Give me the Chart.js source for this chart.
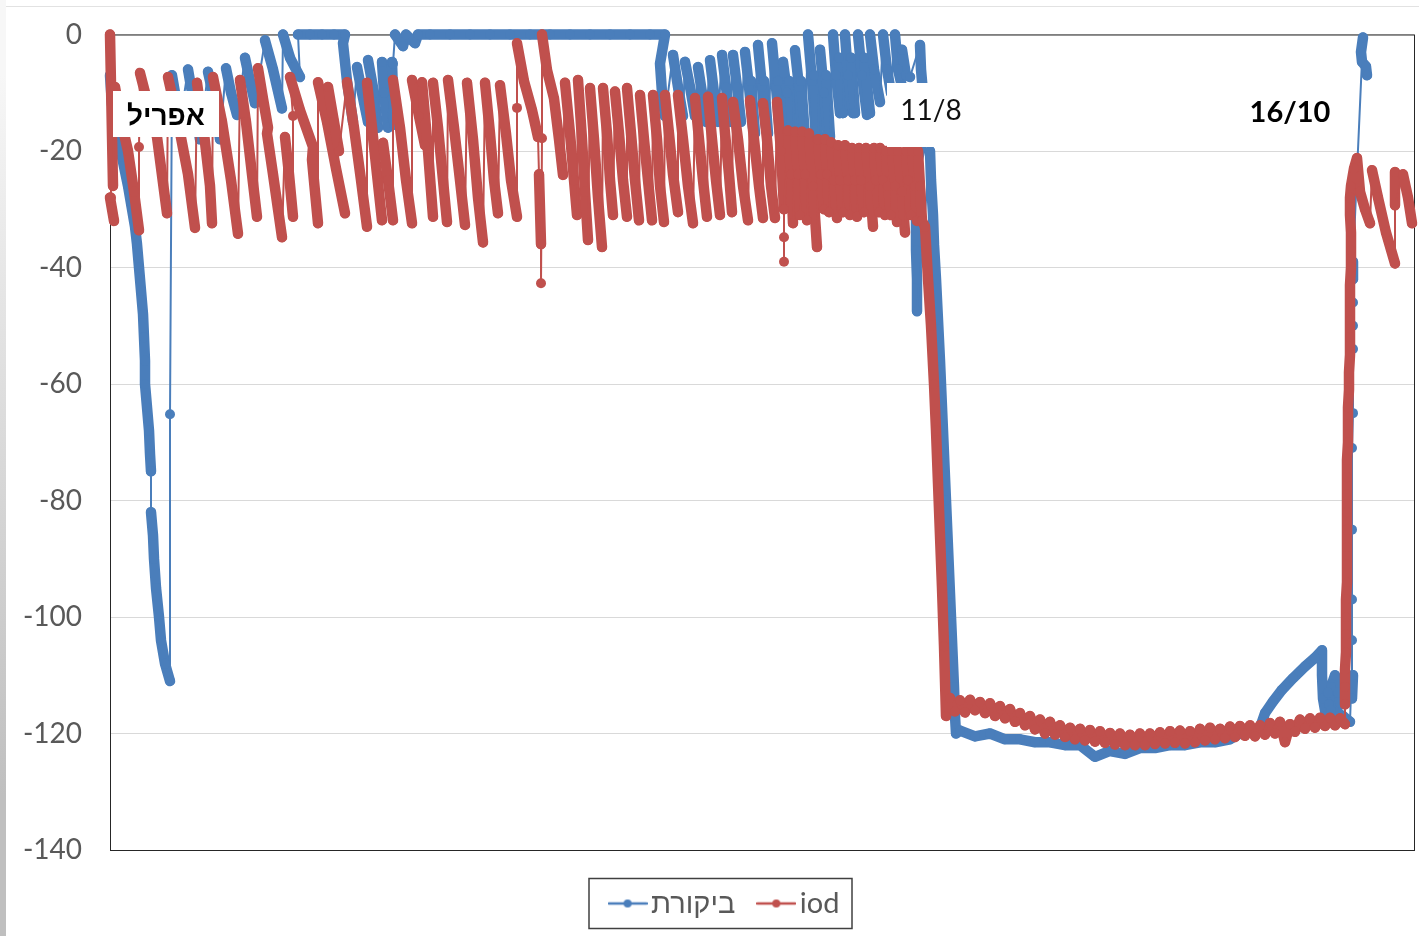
<!DOCTYPE html>
<html><head><meta charset="utf-8">
<style>html,body{margin:0;padding:0;background:#fff;overflow:hidden}
#wrap{position:relative;width:1419px;height:936px}
canvas{position:absolute;left:0;top:0}
#edge{position:absolute;left:0;top:0;width:6px;height:936px;background:linear-gradient(#f7f7f7 8%,#e6e6e6 30%,#bfbfbf 85%)}
#rule{position:absolute;left:6px;top:6px;right:0;height:1px;background:#e2e2e2}
</style>
<script src="https://cdn.jsdelivr.net/npm/chart.js@4"></script></head>
<body><div id="wrap"><div id="edge"></div><div id="rule"></div><canvas id="c" width="1419" height="936"></canvas></div>
<script>
const yTicks=[0,-20,-40,-60,-80,-100,-120,-140];
const seriesNames=['ביקורת','iod'];
const notes=['אפריל','11/8','16/10'];
const controlFall=[[0,-7],[2,-12],[8,-17],[12,-21],[18,-26],[21,-29],[25,-33],[27,-36],[29,-40],[31,-44],[33,-48],[34,-52],[35,-56],[35,-60],[37,-64],[39,-68],[40,-72],[41,-75],[41,-82],[43,-86],[44,-90],[46,-95],[49,-100],[51,-104],[55,-108],[60,-111],[60,-65.2]];
const controlSpring=[[62,-7],[66,-11],[70,-15],[78,-6],[84,-12],[90,-18],[98,-6.4],[104,-11],[110,-18],[116,-5.8],[121,-10],[127,-13.8],[135,-4],[140,-8],[145,-11.8],[155,-1],[163,-6],[172,-12.7],[173,0],[180,-4],[190,-7.3],[188,0],[200,0],[212,0],[224,0],[235,0],[233,-1.5],[237,-8],[243,-15],[247,-5.6],[252,-10],[258,-15],[258,-4.4],[264,-10],[268,-16],[272,-4.7],[274,-10],[278,-16],[282,-4.7],[283,-10],[284,-15.5],[283,-5],[285,0],[293,-2],[296,0],[305,-1.5],[308,0],[320,0],[340,0],[360,0],[380,0],[400,0],[420,0],[440,0],[460,0],[480,0],[500,0],[520,0],[540,0],[555,0]];
const controlSummer=[[550,-5],[552,-10],[555,-14],[563,-3.5],[568,-9],[573,-14],[575,-4.7],[580,-9],[585,-14],[588,-5.6],[592,-10],[596,-15],[600,-4.4],[604,-10],[608,-15],[612,-3.5],[616,-9],[620,-15],[623,-3.5],[627,-9],[631,-15],[635,-3],[639,-9],[643,-16],[641,-8],[645,-17],[648,-1.8],[652,-9],[656,-16],[654,-8],[658,-17],[662,-1.5],[666,-9],[670,-17],[668,-8],[672,-17],[673,-4.7],[677,-10],[681,-17],[679,-8],[683,-17],[685,-2.7],[689,-9],[693,-17.6],[691,-8],[695,-17.6],[698,0],[702,-8],[706,-17.6],[704,-7],[708,-17.6],[710,-2.6],[714,-10],[718,-17.6],[716,-7],[720,-17.6],[723,0],[726,-7],[730,-13.5],[729,-4],[733,-13.5],[735,0],[738,-7],[743,-13.5],[741,-4],[745,-13.5],[748,0],[752,-7],[757,-13.8],[754,-4],[760,-13.5],[760,0],[764,-6],[770,-11.6],[773,0],[777,-6],[781,-10],[785,0],[788,-6],[792,-9],[792,-2.6],[796,-7],[800,-7.3]];
const controlEdge=[[810,-1.8],[811,-6],[813,-10],[813,-18],[807,-22],[807,-27],[806,-32],[806,-37],[807,-42],[807,-47.5]];
const controlDrop=[[820,-20],[821,-25],[823,-31],[824,-36],[826,-42],[828,-49],[830,-56],[832,-64],[834,-72],[836,-80],[838,-88],[840,-96],[842,-104],[844,-112],[845,-117],[846,-120]];
const controlTrough=[[850,-119.5],[865,-120.5],[880,-120],[895,-121],[910,-121],[925,-121.5],[940,-121.5],[955,-122],[970,-122],[985,-124],[1000,-123],[1015,-123.5],[1030,-122.5],[1045,-122.5],[1060,-122],[1075,-122],[1090,-121.5],[1105,-121.5],[1120,-121],[1130,-120],[1150,-119],[1155,-116.5],[1163,-114.5],[1172,-112.5],[1183,-110.5],[1195,-108.5],[1205,-107],[1212,-105.7]];
const controlReturn=[[1212,-110],[1213,-114],[1216,-117],[1219,-115],[1221,-112],[1225,-110],[1228,-113],[1227,-117],[1223,-118],[1218,-113],[1221,-116],[1233,-117],[1240,-118],[1241,-113],[1243,-110],[1242,-114],[1242,-110],[1242,-104],[1242,-97],[1242,-85],[1242,-71],[1243,-65],[1243,-54],[1243,-50],[1243,-46],[1243,-42],[1243,-39],[1253,-0.5],[1251,-3],[1252,-4.7],[1256,-5.5],[1257,-7]];
const iodSpring=[[0,-28],[2,-30],[4,-32],[1,-28],[0,0],[3,-26],[5,-9],[10,-14],[18,-20],[24,-27],[29,-33.6],[29,-19.3],[30,-6.6],[38,-12],[47,-17.6],[57,-30.7],[58,-7.3],[68,-15],[78,-24],[85,-33.2],[87,-8.3],[94,-17],[100,-26],[102,-32.4],[103,-7.3],[112,-15],[121,-25],[128,-34.2],[130,-7.8],[136,-15],[142,-24],[147,-31.3],[148,-5.8],[153,-11],[158,-16],[157,-17],[163,-24],[168,-30],[172,-34.8],[175,-17.6],[179,-24],[183,-31.3],[183,-14],[180,-7.3],[190,-13],[203,-19.3],[202,-21.5],[205,-27],[208,-32.4],[208,-8.2],[217,-15],[226,-23],[235,-30.7],[218,-9],[224,-15],[229,-20],[237,-8.2],[244,-16],[251,-25],[257,-33],[257,-8.3],[262,-16],[267,-24],[272,-31.9],[273,-18.6],[278,-25],[283,-31.9],[283,-7.8],[290,-16],[296,-25],[302,-32.4],[302,-7.8],[309,-14],[315,-19],[312,-8.2],[318,-20],[323,-31.3],[323,-8.3],[328,-16],[333,-25],[337,-32.2],[338,-7.8],[344,-16],[350,-25],[355,-32.7],[357,-8.3],[363,-18],[368,-28],[373,-35.7],[375,-8.3],[380,-17],[384,-25],[388,-30.7],[390,-8.7],[396,-17],[401,-25],[407,-31.3],[407,-12.6],[407,-1.5],[414,-8],[422,-13],[428,-17.6],[429,-24],[430,-30],[431,-36],[431,-42.7],[432,-17.8],[432,0]];
const iodSummer=[[437,-6.1],[444,-11],[449,-18],[453,-24.1],[455,-8.3],[460,-17],[464,-25],[467,-31],[468,-7.8],[472,-18],[475,-27],[478,-35.3],[480,-9.2],[484,-18],[488,-28],[492,-36.5],[493,-9.2],[497,-17],[500,-25],[503,-31],[505,-9.8],[509,-17],[513,-25],[517,-31.3],[517,-9.2],[521,-17],[525,-25],[529,-31.9],[530,-10.4],[534,-18],[538,-25],[542,-31.9],[543,-10.4],[547,-18],[550,-26],[554,-32.2],[555,-10.4],[559,-17],[563,-24],[568,-30.5],[568,-10.4],[573,-18],[578,-26],[583,-32.4],[585,-10.9],[589,-18],[593,-25],[597,-31.3],[598,-10.7],[602,-18],[606,-25],[610,-31],[612,-10.9],[615,-17],[619,-24],[622,-30.5],[623,-11.6],[628,-18],[633,-26],[638,-31.9],[640,-11.3],[644,-18],[649,-26],[653,-31.5],[653,-11.8],[657,-18],[661,-26],[665,-31.5],[667,-11.6],[671,-20],[674,-30],[674,-39],[674,-34.8],[674,-30]];
const iodAugust=[[678,-16.5],[681,-24],[683,-32.4],[685,-16.7],[688,-24],[690,-31],[692,-16.7],[695,-24],[697,-31.9],[699,-17],[703,-26],[707,-36.5],[708,-18],[711,-24],[714,-30],[715,-18],[717,-24],[719,-30.5],[721,-18.5],[724,-25],[727,-31.5],[728,-19],[730,-25],[733,-30.5],[735,-19],[738,-25],[740,-31],[742,-19.5],[745,-25],[747,-31.3],[749,-19.5],[751,-25],[754,-30.5],[756,-19.5],[760,-26],[763,-33],[764,-19.5],[766,-25],[769,-30.5],[770,-19.5],[773,-25],[775,-31],[776,-20],[778,-26],[781,-31],[782,-20],[785,-26],[787,-32.2],[788,-20],[792,-27],[795,-34],[796,-20],[798,-25],[801,-31],[802,-20],[805,-26],[807,-32],[808,-20],[810,-26],[812,-32]];
const iodDrop=[[815,-33],[818,-42],[821,-50],[824,-60],[826,-68],[828,-77],[830,-86],[832,-95],[834,-105],[836,-117]];
const iodTrough=[[840,-113.9],[845,-116.2],[850,-114.3],[855,-116.4],[860,-114.2],[865,-116],[870,-114.6],[875,-116.5],[880,-114.8],[885,-117],[890,-115.3],[895,-117.4],[900,-115.8],[905,-118],[910,-116.5],[915,-118.6],[920,-117],[925,-119.3],[930,-117.6],[935,-120],[940,-118],[945,-120.2],[950,-118.6],[955,-120.6],[960,-119],[965,-121],[970,-119.2],[975,-121.2],[980,-119.4],[985,-121.4],[990,-119.6],[995,-121.6],[1000,-119.9],[1005,-121.9],[1010,-120],[1015,-122],[1020,-120.2],[1025,-122],[1030,-120],[1035,-122],[1040,-120],[1045,-121.8],[1050,-119.8],[1055,-121.7],[1060,-119.6],[1065,-121.6],[1070,-119.5],[1075,-121.7],[1080,-119.6],[1085,-121.5],[1090,-119.2],[1095,-121.2],[1100,-119],[1105,-121],[1110,-119.2],[1115,-120.8],[1120,-118.8],[1125,-120.6],[1130,-118.7],[1135,-120.4],[1140,-118.6],[1145,-120.5],[1150,-118.6],[1155,-120.2],[1160,-118.2],[1165,-120],[1170,-118],[1175,-121.5],[1180,-118.4],[1185,-119.7],[1190,-117.6],[1195,-119.2],[1200,-117.4],[1205,-119],[1210,-117.3],[1215,-118.7],[1220,-117.3],[1225,-118.6],[1230,-117.4],[1235,-118.4]];
const iodReturn=[[1235,-115],[1235,-112],[1235,-109],[1236,-106],[1236,-103],[1236,-100],[1236,-97],[1237,-94],[1237,-91],[1237,-88],[1237,-85],[1237,-82],[1237,-79],[1237,-76],[1237,-73],[1238,-70],[1238,-67],[1238,-64],[1239,-61],[1239,-58],[1240,-55],[1240,-52],[1240,-49],[1240,-46],[1240,-43],[1241,-40],[1241,-37],[1241,-34],[1240,-31],[1240,-28],[1241,-26],[1244,-23],[1247,-21.2],[1250,-27],[1255,-30],[1260,-32.4],[1262,-23.3],[1268,-28],[1276,-34],[1285,-39.3],[1285,-23.6],[1285,-29.3],[1293,-24],[1298,-28],[1302,-32.4]];

const BLUE='#4a7ebb',RED='#c0504d';
const toPts=a=>a.map(p=>({x:p[0],y:p[1]}));
const controlData=toPts([].concat(controlFall,controlSpring,controlSummer,controlEdge,controlDrop,controlTrough,controlReturn));
const iodData=toPts([].concat(iodSpring,iodSummer,iodAugust,iodDrop,iodTrough,iodReturn));
function seg(ctx){const dy=ctx.p1.parsed.y-ctx.p0.parsed.y,dx=ctx.p1.parsed.x-ctx.p0.parsed.x;
  if(dy>3.2||(Math.abs(dy)>6&&Math.abs(dx)<2))return 2;return 10.5;}
function swatch(col){const c=document.createElement('canvas');c.width=40;c.height=12;const g=c.getContext('2d');
  g.strokeStyle=col;g.lineWidth=2.5;g.lineCap='round';g.beginPath();g.moveTo(1,6);g.lineTo(39,6);g.stroke();
  g.fillStyle=col;g.beginPath();g.arc(20,6,4,0,7);g.fill();return c;}
const ds=(label,data,col,order)=>({label,data,order,borderColor:col,backgroundColor:col,borderWidth:10.5,pointRadius:5,pointHoverRadius:5,pointBorderWidth:0,pointBackgroundColor:col,tension:0,clip:false,borderCapStyle:'round',borderJoinStyle:'round',segment:{borderWidth:seg}});
const LEG_SHIFT_X=20,LEG_SHIFT_Y=7;
const frame={id:'frame',
 afterLayout(ch){ch.legend.top+=LEG_SHIFT_Y;ch.legend.left+=LEG_SHIFT_X;ch.legend.right+=LEG_SHIFT_X;},
 beforeDatasetsDraw(ch){const a=ch.chartArea,g=ch.ctx;g.save();g.strokeStyle='#262626';g.lineWidth=1;g.strokeRect(a.left+.5,a.top+.5,a.width,a.height);g.restore();},
 afterDatasetsDraw(ch){const g=ch.ctx;g.save();
  g.fillStyle='#fff';g.fillRect(113,91,106,46);g.fillRect(887,83,90,64);
  g.textAlign='center';g.textBaseline='middle';g.fillStyle='#000';
  g.font="bold 28px 'Liberation Sans'";g.fillText(notes[0],166,117);
  g.fillStyle='#111';g.font="28px Lato";g.fillText(notes[1],931,111);
  g.fillStyle='#000';g.font="bold 29px Lato";g.fillText(notes[2],1290,113);
  g.strokeStyle='#404040';g.lineWidth=1.5;g.strokeRect(589,878.5,263,50);
  g.restore();}};
new Chart(document.getElementById('c'),{type:'line',
 data:{datasets:[ds(seriesNames[0],controlData,BLUE,2),ds(seriesNames[1],iodData,RED,1)]},
 plugins:[frame],
 options:{responsive:false,animation:false,devicePixelRatio:1,events:[],
  layout:{padding:{left:4,right:5,top:34.5,bottom:15}},
  scales:{
   x:{type:'linear',min:0,max:1304,display:false},
   y:{min:-140,max:0,afterFit(s){s.width=106;},afterBuildTicks(s){s.ticks=yTicks.map(v=>({value:v}));},
     grid:{color:'#d9d9d9',lineWidth:1,drawTicks:true,tickLength:28,tickColor:'rgba(0,0,0,0)'},border:{display:false},
     ticks:{padding:0,color:'#595959',font:{family:"Lato",size:28}}}},
  plugins:{tooltip:{enabled:false},title:{display:false},
   legend:{display:true,position:'bottom',labels:{usePointStyle:true,pointStyleWidth:18,padding:32,color:'#595959',font:{family:"Lato,'Liberation Sans'",size:29},
     generateLabels(ch){return ch.data.datasets.map((d,i)=>({text:d.label,pointStyle:swatch(d.borderColor),fillStyle:d.borderColor,strokeStyle:d.borderColor,lineWidth:0,datasetIndex:i,hidden:false,fontColor:'#595959'}));}}}}}});
</script></body></html>
